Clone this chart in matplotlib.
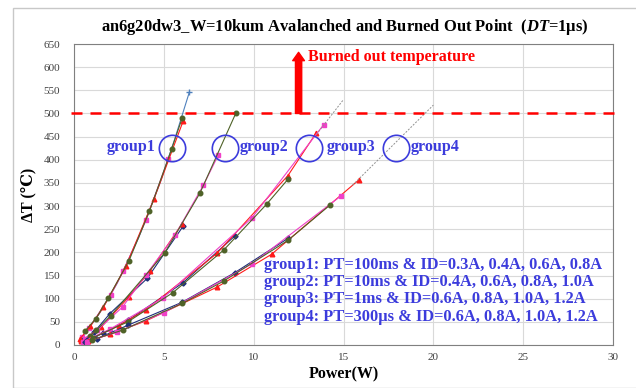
import matplotlib
matplotlib.use("Agg")
import matplotlib.pyplot as plt
from matplotlib.patches import Rectangle

plt.rcParams['font.family'] = ['Liberation Serif', 'DejaVu Serif']
plt.rcParams['mathtext.fontset'] = 'custom'
plt.rcParams['mathtext.rm'] = 'Liberation Serif:bold'
plt.rcParams['mathtext.it'] = 'Liberation Serif:bold:italic'

# ---- data (Power in W, dT in degC) ----
# group1: PT=100ms
g1_plus_x = [0.6, 1.4, 2.4, 3.6, 4.8, 5.6, 6.42]
g1_plus_y = [25, 67, 133, 232, 351, 444, 546]
g1_sq_x = [0.45, 0.85, 2.04, 2.74, 4.0, 5.25]
g1_sq_y = [18, 37, 108, 159, 269, 402]
g1_tri_x = [0.35, 0.9, 1.63, 2.9, 4.45, 6.08]
g1_tri_y = [14, 40, 81, 171, 315, 484]
g1_cir_x = [0.61, 1.22, 1.9, 3.06, 4.2, 5.43, 6.03]
g1_cir_y = [30, 57, 101, 182, 289, 423, 491]

# group2: PT=10ms
g2_dia_x = [0.5, 1.1, 2.0, 4.08, 6.08]
g2_dia_y = [11, 27, 68, 144, 257]
g2_tri_x = [0.4, 1.5, 3.06, 4.23, 6.0]
g2_tri_y = [8, 38, 104, 160, 261]
g2_sq_x = [0.6, 1.3, 2.7, 4.0, 5.62, 7.2, 8.03]
g2_sq_y = [14, 32, 82, 151, 237, 345, 410]
g2_cir_x = [0.9, 1.25, 2.04, 5.05, 7.01, 9.0]
g2_cir_y = [20, 32, 63, 199, 328, 500]

# group3: PT=1ms
g3_dia_x = [0.7, 1.6, 3.0, 6.05, 8.94]
g3_dia_y = [10, 25, 53, 134, 235]
g3_tri_x = [0.9, 2.5, 4.0, 7.96, 11.91, 13.48]
g3_tri_y = [13, 42, 76, 198, 366, 458]
g3_sq_x = [0.5, 1.99, 4.93, 9.89, 13.9]
g3_sq_y = [7, 34, 101, 274, 476]
g3_cir_x = [1.06, 3.0, 5.5, 8.33, 10.72, 11.91]
g3_cir_y = [16, 50, 113, 205, 304, 358]
g3_trend_x = [13.5, 15.0]
g3_trend_y = [455, 530]

# group4: PT=300us
g4_dia_x = [0.6, 1.3, 3.02, 6.0, 8.94, 11.9]
g4_dia_y = [6, 14, 43, 92, 156, 230]
g4_tri_x = [0.8, 2.0, 4.0, 7.96, 11.0, 15.87]
g4_tri_y = [8.5, 23, 52, 125, 196, 357]
g4_sq_x = [0.7, 2.4, 5.02, 9.89, 14.86]
g4_sq_y = [7, 28, 70, 175, 322]
g4_cir_x = [1.0, 2.7, 6.03, 8.33, 11.91, 14.27]
g4_cir_y = [11, 32, 90, 138, 226, 303]
g4_trend_x = [15.5, 20.0]
g4_trend_y = [345, 518]

burn_temp = 500
group_names = ["group1", "group2", "group3", "group4"]
group_circle_x = [5.45, 8.4, 13.1, 17.9]
group_text_x = [3.2, 10.6, 15.4, 20.1]
group_y = 428
legend_lines = [
    "group1: PT=100ms & ID=0.3A, 0.4A, 0.6A, 0.8A",
    "group2: PT=10ms & ID=0.4A, 0.6A, 0.8A, 1.0A",
    "group3: PT=1ms & ID=0.6A, 0.8A, 1.0A, 1.2A",
    "group4: PT=300\u03bcs & ID=0.6A, 0.8A, 1.0A, 1.2A",
]

NAVY = "#1f2f7a"
RED = "#ff1a1a"
PINK = "#f040c8"
GREEN = "#4f6228"
LBLUE = "#4f81bd"
TXTBLUE = "#3c3cdc"

fig = plt.figure(figsize=(6.36, 3.88), dpi=100)
fig.patches.append(Rectangle((13 / 636, 0), 1, 1 - 8 / 388, transform=fig.transFigure,
                             fill=False, edgecolor="#c8c8c8", lw=1))
ax = fig.add_axes([74 / 636, 1 - 345 / 388, (613 - 74) / 636, (345 - 44) / 388])

ax.plot(g1_plus_x, g1_plus_y, color=LBLUE, marker="+", markevery=[len(g1_plus_x) - 1],
        lw=0.8, ms=4)
for xs, ys, c, m in [
    (g1_sq_x, g1_sq_y, PINK, "s"), (g1_tri_x, g1_tri_y, RED, "^"), (g1_cir_x, g1_cir_y, GREEN, "o"),
    (g2_dia_x, g2_dia_y, NAVY, "D"), (g2_tri_x, g2_tri_y, RED, "^"),
    (g2_sq_x, g2_sq_y, PINK, "s"), (g2_cir_x, g2_cir_y, GREEN, "o"),
    (g3_dia_x, g3_dia_y, NAVY, "D"), (g3_tri_x, g3_tri_y, RED, "^"),
    (g3_sq_x, g3_sq_y, PINK, "s"), (g3_cir_x, g3_cir_y, GREEN, "o"),
    (g4_dia_x, g4_dia_y, NAVY, "D"), (g4_tri_x, g4_tri_y, RED, "^"),
    (g4_sq_x, g4_sq_y, PINK, "s"), (g4_cir_x, g4_cir_y, GREEN, "o"),
]:
    ax.plot(xs, ys, color=c, marker=m, mec=c, mfc=c,
            ms=3.3 if m != "D" else 2.6, lw=0.8)

ax.plot(g3_trend_x, g3_trend_y, color="#909090", ls=(0, (2, 1.5)), lw=0.7)
ax.plot(g4_trend_x, g4_trend_y, color="#909090", ls=(0, (2, 1.5)), lw=0.7)

ax.axhline(burn_temp, xmin=-0.006, xmax=1.012, color="red", lw=1.8,
           ls=(0, (4.4, 3.2)), clip_on=False, zorder=5)
ax.annotate("", xy=(12.5, 632), xytext=(12.5, burn_temp),
            arrowprops=dict(width=4.5, headwidth=8.5, headlength=6, color="red", shrink=0))
ax.text(13.0, 622, "Burned out temperature", color="red", fontsize=11.5,
        fontweight="bold", va="center", ha="left")

for name, cx, tx in zip(group_names, group_circle_x, group_text_x):
    ax.plot([cx], [group_y - 3], marker="o", ms=19, mfc="none", mec=TXTBLUE, mew=1.2)
    ax.text(tx, group_y, name, color=TXTBLUE, fontsize=11.5, fontweight="bold",
            ha="center", va="center")

ax.text(10.6, 190, "\n".join(legend_lines), color=TXTBLUE, fontsize=11.8,
        fontweight="bold", ha="left", va="top", linespacing=1.1)

ax.set_xlim(0, 30)
ax.set_ylim(0, 650)
ax.set_xticks(range(0, 31, 5))
ax.set_yticks(range(0, 651, 50))
ax.grid(True, color="#d9d9d9", lw=0.8)
ax.set_axisbelow(True)
ax.tick_params(axis="y", length=0, labelsize=8, labelcolor="#404040", pad=10)
ax.tick_params(axis="x", length=0, labelsize=8, labelcolor="#404040", pad=6)
for s in ax.spines.values():
    s.set_color("#808080")
    s.set_linewidth(0.8)

ax.set_xlabel("Power(W)", fontsize=11.5, fontweight="bold", labelpad=3)
ax.set_ylabel("\u0394T (\u2103)", fontsize=11.5, fontweight="bold", labelpad=5)
fig.text(0.542, 0.930, "an6g20dw3_W=10kum Avalanched and Burned Out Point  ($DT$=1\u03bcs)",
         ha="center", va="center", fontsize=11.9, fontweight="bold")

fig.savefig("out.png", dpi=100)
